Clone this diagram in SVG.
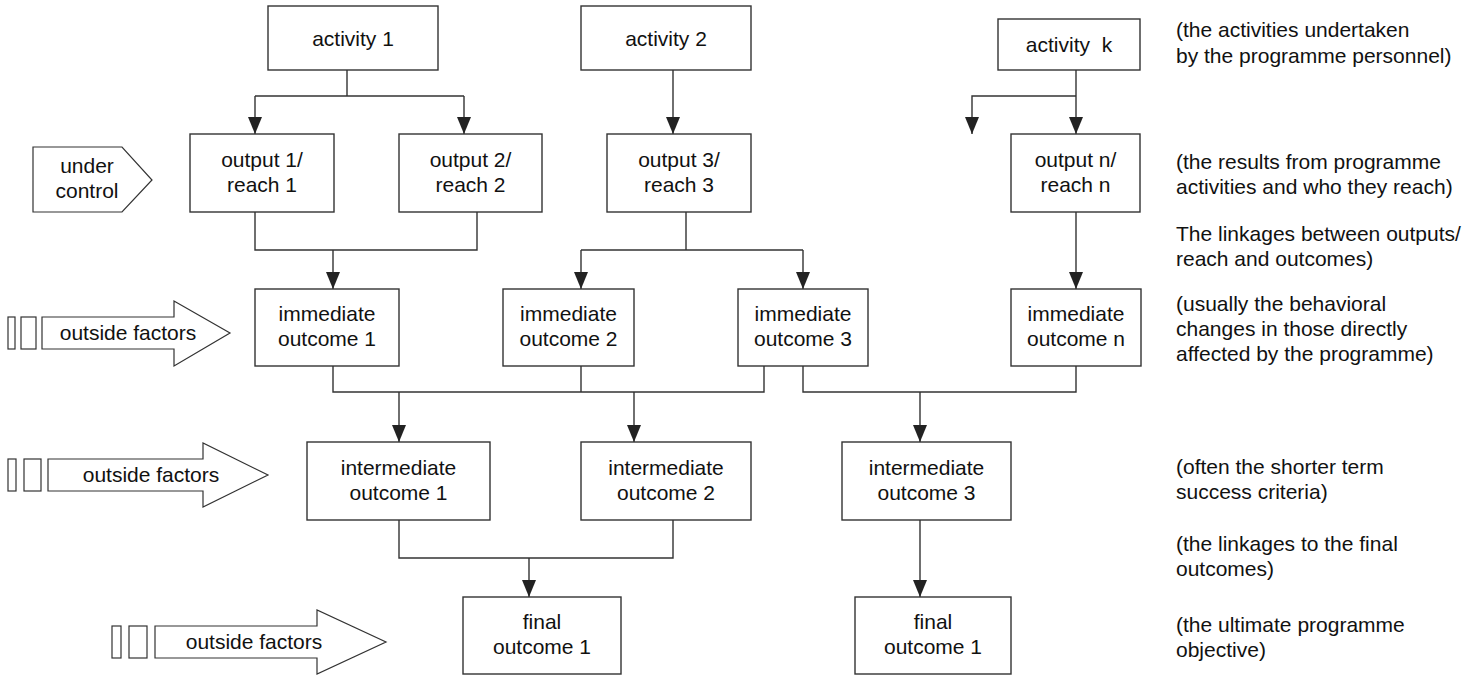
<svg xmlns="http://www.w3.org/2000/svg" width="1466" height="675" viewBox="0 0 1466 675">
  <style>
    .box { fill: #ffffff; stroke: #333333; stroke-width: 1.4; }
    .shape { fill: #ffffff; stroke: #333333; stroke-width: 1.2; }
    .wire { fill: none; stroke: #333333; stroke-width: 1.4; }
    .lbl { font-family: "Liberation Sans", Arial, Helvetica, sans-serif; font-size: 21px; fill: #111111; text-anchor: middle; }
    .note { font-family: "Liberation Sans", Arial, Helvetica, sans-serif; font-size: 21px; fill: #111111; }
  </style>
  <defs>
    <marker id="head" viewBox="0 0 17 14" refX="17" refY="7" markerWidth="17" markerHeight="14" markerUnits="userSpaceOnUse" orient="auto">
      <path d="M0,0 L17,7 L0,14 Z" fill="#222222"/>
    </marker>
  </defs>

  <rect width="1466" height="675" fill="#ffffff"/>

  <!-- connectors -->
  <g id="connectors">
    <!-- activity 1 splits to outputs 1 and 2 -->
    <path class="wire" d="M347,70 V96 M255,96 H464"/>
    <path class="wire" d="M255,96 V134" marker-end="url(#head)"/>
    <path class="wire" d="M464,96 V134" marker-end="url(#head)"/>
    <!-- activity 2 to output 3 -->
    <path class="wire" d="M673,70 V134" marker-end="url(#head)"/>
    <!-- activity k -->
    <path class="wire" d="M1076,70 V134" marker-end="url(#head)"/>
    <path class="wire" d="M1076,96 H972 V134" marker-end="url(#head)"/>
    <!-- outputs 1 and 2 merge into immediate outcome 1 -->
    <path class="wire" d="M255,212 V250 H477 V212"/>
    <path class="wire" d="M333,250 V289" marker-end="url(#head)"/>
    <!-- output 3 splits to immediate outcomes 2 and 3 -->
    <path class="wire" d="M686,212 V250 M581,250 H803"/>
    <path class="wire" d="M581,250 V289" marker-end="url(#head)"/>
    <path class="wire" d="M803,250 V289" marker-end="url(#head)"/>
    <!-- output n to immediate outcome n -->
    <path class="wire" d="M1076,212 V289" marker-end="url(#head)"/>
    <!-- immediate outcomes to intermediate outcomes -->
    <path class="wire" d="M333,366 V392 H764 V366 M581,366 V392"/>
    <path class="wire" d="M399,392 V442" marker-end="url(#head)"/>
    <path class="wire" d="M634,392 V442" marker-end="url(#head)"/>
    <path class="wire" d="M803,366 V392 H1076 V366"/>
    <path class="wire" d="M920,392 V442" marker-end="url(#head)"/>
    <!-- intermediate outcomes to final outcomes -->
    <path class="wire" d="M399,520 V558 H673 V520"/>
    <path class="wire" d="M529,558 V597" marker-end="url(#head)"/>
    <path class="wire" d="M920,520 V597" marker-end="url(#head)"/>
  </g>

  <!-- activities -->
  <g id="activity-1">
    <rect class="box" x="268" y="6" width="170" height="64"/>
    <text class="lbl" x="353" y="46">activity 1</text>
  </g>
  <g id="activity-2">
    <rect class="box" x="581" y="6" width="170" height="64"/>
    <text class="lbl" x="666" y="46">activity 2</text>
  </g>
  <g id="activity-k">
    <rect class="box" x="998" y="19" width="142" height="51"/>
    <text class="lbl" x="1069" y="52" xml:space="preserve">activity  k</text>
  </g>

  <!-- outputs / reach -->
  <g id="under-control">
    <polygon class="shape" points="33,147 122,147 152,180 122,212 33,212"/>
    <text class="lbl" x="87" y="173">under</text>
    <text class="lbl" x="87" y="198">control</text>
  </g>
  <g id="output-1">
    <rect class="box" x="190" y="134" width="144" height="78"/>
    <text class="lbl" x="262" y="167">output 1/</text>
    <text class="lbl" x="262" y="192">reach 1</text>
  </g>
  <g id="output-2">
    <rect class="box" x="399" y="134" width="143" height="78"/>
    <text class="lbl" x="470.5" y="167">output 2/</text>
    <text class="lbl" x="470.5" y="192">reach 2</text>
  </g>
  <g id="output-3">
    <rect class="box" x="607" y="134" width="144" height="78"/>
    <text class="lbl" x="679" y="167">output 3/</text>
    <text class="lbl" x="679" y="192">reach 3</text>
  </g>
  <g id="output-n">
    <rect class="box" x="1011" y="134" width="129" height="78"/>
    <text class="lbl" x="1075.5" y="167">output n/</text>
    <text class="lbl" x="1075.5" y="192">reach n</text>
  </g>

  <!-- immediate outcomes -->
  <g id="outside-factors-1">
    <rect class="shape" x="8" y="317" width="7" height="32"/>
    <rect class="shape" x="21" y="317" width="15" height="32"/>
    <polygon class="shape" points="42,317 174,317 174,301 230,333 174,366 174,349 42,349"/>
    <text class="lbl" x="128" y="340">outside factors</text>
  </g>
  <g id="immediate-1">
    <rect class="box" x="255" y="289" width="144" height="77"/>
    <text class="lbl" x="327" y="321">immediate</text>
    <text class="lbl" x="327" y="346">outcome 1</text>
  </g>
  <g id="immediate-2">
    <rect class="box" x="503" y="289" width="131" height="77"/>
    <text class="lbl" x="568.5" y="321">immediate</text>
    <text class="lbl" x="568.5" y="346">outcome 2</text>
  </g>
  <g id="immediate-3">
    <rect class="box" x="738" y="289" width="130" height="77"/>
    <text class="lbl" x="803" y="321">immediate</text>
    <text class="lbl" x="803" y="346">outcome 3</text>
  </g>
  <g id="immediate-n">
    <rect class="box" x="1011" y="289" width="130" height="77"/>
    <text class="lbl" x="1076" y="321">immediate</text>
    <text class="lbl" x="1076" y="346">outcome n</text>
  </g>

  <!-- intermediate outcomes -->
  <g id="outside-factors-2">
    <rect class="shape" x="8" y="459" width="8" height="32"/>
    <rect class="shape" x="24" y="459" width="17" height="32"/>
    <polygon class="shape" points="48,459 203,459 203,443 268,475 203,507 203,491 48,491"/>
    <text class="lbl" x="151" y="482">outside factors</text>
  </g>
  <g id="intermediate-1">
    <rect class="box" x="307" y="442" width="183" height="78"/>
    <text class="lbl" x="398.5" y="475">intermediate</text>
    <text class="lbl" x="398.5" y="500">outcome 1</text>
  </g>
  <g id="intermediate-2">
    <rect class="box" x="581" y="442" width="170" height="78"/>
    <text class="lbl" x="666" y="475">intermediate</text>
    <text class="lbl" x="666" y="500">outcome 2</text>
  </g>
  <g id="intermediate-3">
    <rect class="box" x="842" y="442" width="169" height="78"/>
    <text class="lbl" x="926.5" y="475">intermediate</text>
    <text class="lbl" x="926.5" y="500">outcome 3</text>
  </g>

  <!-- final outcomes -->
  <g id="outside-factors-3">
    <rect class="shape" x="112" y="626" width="9" height="32"/>
    <rect class="shape" x="129" y="626" width="18" height="32"/>
    <polygon class="shape" points="155,626 317,626 317,610 386,642 317,674 317,658 155,658"/>
    <text class="lbl" x="254" y="649">outside factors</text>
  </g>
  <g id="final-1">
    <rect class="box" x="463" y="597" width="158" height="77"/>
    <text class="lbl" x="542" y="629">final</text>
    <text class="lbl" x="542" y="654">outcome 1</text>
  </g>
  <g id="final-2">
    <rect class="box" x="855" y="597" width="156" height="77"/>
    <text class="lbl" x="933" y="629">final</text>
    <text class="lbl" x="933" y="654">outcome 1</text>
  </g>

  <!-- explanatory notes per level -->
  <g id="notes">
    <text class="note" x="1176" y="37">(the activities undertaken</text>
    <text class="note" x="1176" y="63">by the programme personnel)</text>
    <text class="note" x="1176" y="169">(the results from programme</text>
    <text class="note" x="1176" y="194">activities and who they reach)</text>
    <text class="note" x="1176" y="241">The linkages between outputs/</text>
    <text class="note" x="1176" y="266">reach and outcomes)</text>
    <text class="note" x="1176" y="311">(usually the behavioral</text>
    <text class="note" x="1176" y="336">changes in those directly</text>
    <text class="note" x="1176" y="361">affected by the programme)</text>
    <text class="note" x="1176" y="474">(often the shorter term</text>
    <text class="note" x="1176" y="499">success criteria)</text>
    <text class="note" x="1176" y="551">(the linkages to the final</text>
    <text class="note" x="1176" y="576">outcomes)</text>
    <text class="note" x="1176" y="632">(the ultimate programme</text>
    <text class="note" x="1176" y="657">objective)</text>
  </g>
</svg>
